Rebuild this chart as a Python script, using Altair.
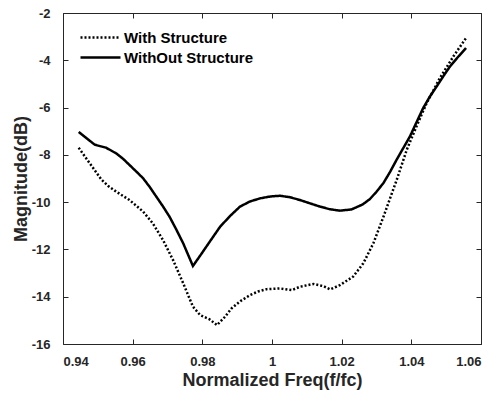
import altair as alt
import pandas as pd

# With Structure (dotted)
with_x = [0.9445, 0.9477, 0.9510, 0.9530, 0.9553, 0.9591, 0.9630, 0.9658, 0.9687, 0.9716, 0.9745,
          0.9773, 0.9794, 0.9820, 0.9842, 0.9865, 0.9884, 0.9910, 0.9937, 0.9960, 0.9985, 1.0023, 1.0057,
          1.0080, 1.0119, 1.0147, 1.0167, 1.0195, 1.0233, 1.0262, 1.0291, 1.0320, 1.0344,
          1.0358, 1.0387, 1.0415, 1.0444, 1.0482, 1.0521, 1.0557]
with_y = [-7.70, -8.36, -9.04, -9.32, -9.56, -9.91, -10.40, -10.90, -11.60, -12.45, -13.43,
          -14.42, -14.78, -14.95, -15.20, -14.85, -14.49, -14.18, -13.93, -13.78, -13.68, -13.65, -13.72,
          -13.58, -13.46, -13.55, -13.69, -13.51, -13.15, -12.59, -11.74, -10.62, -9.63,
          -9.06, -7.78, -6.79, -5.81, -4.75, -3.83, -3.06]

# WithOut Structure (solid)
without_x = [0.9445, 0.9491, 0.9524, 0.9553, 0.9572, 0.9591, 0.9610, 0.9630, 0.9649, 0.9668, 0.9687,
             0.9706, 0.9725, 0.9745, 0.9773, 0.9793, 0.9820, 0.9851, 0.9880, 0.9908, 0.9937,
             0.9966, 0.9995, 1.0023, 1.0051, 1.0080, 1.0109, 1.0138, 1.0166, 1.0195, 1.0228,
             1.0260, 1.0281, 1.0300, 1.0320, 1.0339, 1.0358, 1.0377, 1.0396, 1.0415, 1.0434,
             1.0453, 1.0473, 1.0492, 1.0511, 1.0534, 1.0557]
without_y = [-7.03, -7.57, -7.70, -7.94, -8.16, -8.43, -8.70, -8.99, -9.36, -9.77, -10.18,
             -10.62, -11.15, -11.74, -12.70, -12.28, -11.70, -11.04, -10.58, -10.19, -9.97,
             -9.84, -9.76, -9.73, -9.79, -9.91, -10.05, -10.19, -10.30, -10.36, -10.31,
             -10.10, -9.87, -9.56, -9.19, -8.72, -8.20, -7.71, -7.22, -6.62, -6.02,
             -5.54, -5.10, -4.67, -4.26, -3.86, -3.48]

series_names = ["With Structure", "WithOut Structure"]
x_ticks = [0.94, 0.96, 0.98, 1.0, 1.02, 1.04, 1.06]
y_ticks = [-16, -14, -12, -10, -8, -6, -4, -2]

rows = []
for i, (xs, ys) in enumerate([(with_x, with_y), (without_x, without_y)]):
    for k, (a, b) in enumerate(zip(xs, ys)):
        rows.append({"x": a, "y": b, "series": series_names[i], "order": k})
df = pd.DataFrame(rows)

FONT = "Liberation Sans"
AX = "#262626"

xscale = alt.Scale(domain=[0.94, 1.06], nice=False, zero=False)
yscale = alt.Scale(domain=[-16, -2], nice=False, zero=False)

common_axis = dict(
    values=None, grid=False, domain=False, ticks=True, tickSize=5, offset=-5,
    tickColor=AX, tickWidth=1, labelFont=FONT, labelFontSize=13, labelFontWeight="bold",
    labelColor=AX, titleFont=FONT, titleFontSize=18, titleFontWeight="bold", titleColor=AX,
    labelExpr="toString(datum.value)",
)

def ax(vals, **kw):
    d = dict(common_axis)
    d["values"] = vals
    d.update(kw)
    return alt.Axis(**d)

lines = alt.Chart(df).mark_line(strokeWidth=2.5, color="black").encode(
    x=alt.X("x:Q", scale=xscale,
            axis=ax(x_ticks, orient="bottom", labelPadding=11, title="Normalized Freq(f/fc)",
                    titlePadding=3)),
    y=alt.Y("y:Q", scale=yscale,
            axis=ax(y_ticks, orient="left", labelPadding=13, title="Magnitude(dB)",
                    titlePadding=1)),
    strokeDash=alt.StrokeDash(
        "series:N",
        scale=alt.Scale(domain=series_names, range=[[2, 2], [1, 0]]),
        legend=alt.Legend(
            title=None, orient="none", legendX=16, legendY=13, symbolType="M-1,0H3",
            symbolSize=400, symbolStrokeWidth=2.5, symbolStrokeColor="black",
            labelFont=FONT, labelFontSize=15, labelFontWeight="bold", labelColor="black",
            labelOffset=22, rowPadding=0, padding=0,
        ),
    ),
    order="order:Q",
)

mirror = alt.Chart(df).mark_line(opacity=0).encode(
    x=alt.X("x:Q", scale=xscale,
            axis=ax(x_ticks, orient="top", labels=False, title=None)),
    y=alt.Y("y:Q", scale=yscale,
            axis=ax(y_ticks, orient="right", labels=False, title=None)),
    detail="series:N",
)

chart = alt.layer(lines, mirror).resolve_axis(x="independent", y="independent").properties(
    width=418, height=331,
    autosize=alt.AutoSizeParams(type="none"),
    padding={"left": 63, "top": 13, "right": 21, "bottom": 49},
    background="white",
).configure_view(stroke=AX, strokeWidth=1)

chart.save("out.html", embed_options={"renderer": "svg", "actions": False})
